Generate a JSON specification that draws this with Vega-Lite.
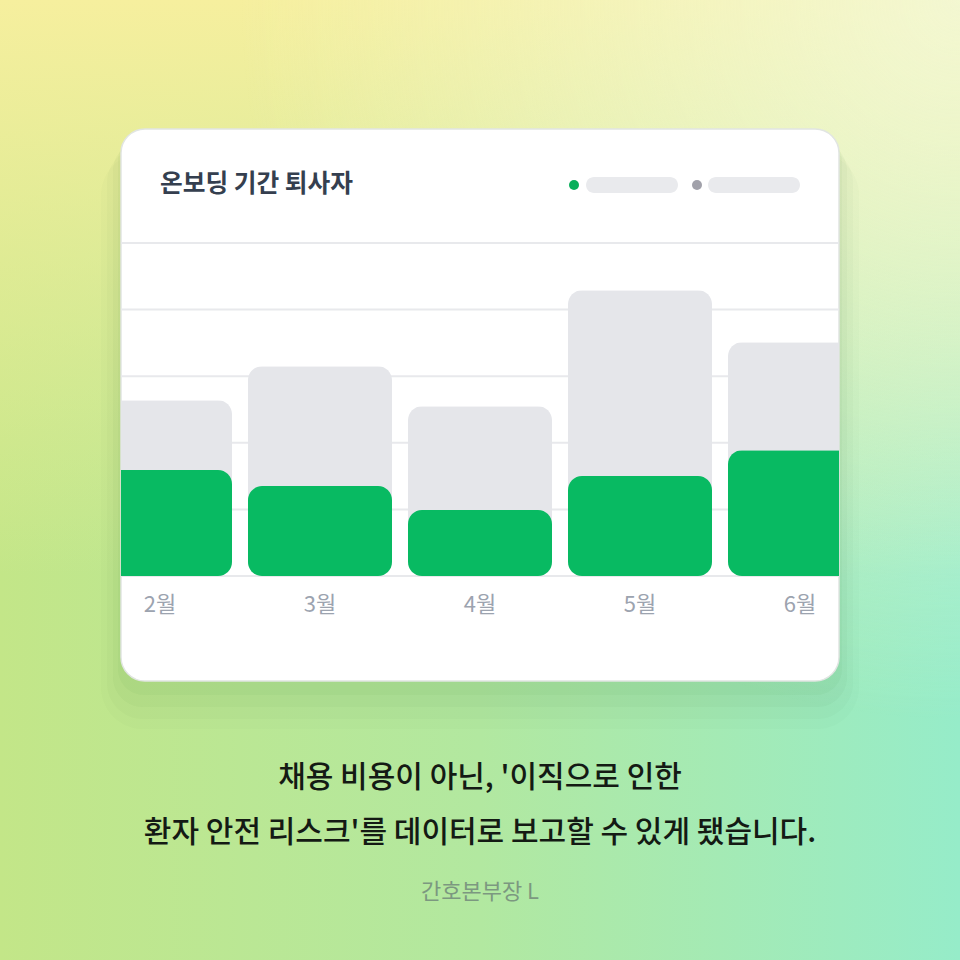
{
  "$schema": "https://vega.github.io/schema/vega-lite/v6.json",
  "description": "Card chart of leavers during onboarding, by month, on a gradient background.",
  "autosize": {"type": "pad"},
  "padding": 0,
  "background": "#c8e99a",
  "config": {"view": {"stroke": null}, "font": "Noto Sans CJK KR"},
  "datasets": {
    "months": [
      {"month": "2월", "total": 2.64, "leavers": 1.59},
      {"month": "3월", "total": 3.15, "leavers": 1.35},
      {"month": "4월", "total": 2.55, "leavers": 0.99},
      {"month": "5월", "total": 4.29, "leavers": 1.5},
      {"month": "6월", "total": 3.51, "leavers": 1.89}
    ],
    "grid": [{"v": 0}, {"v": 1}, {"v": 2}, {"v": 3}, {"v": 4}, {"v": 5}],
    "one": [{}]
  },
  "vconcat": [
    {
      "width": 718,
      "height": 552,
      "layer": [
        {
          "data": {"name": "one"},
          "mark": {
            "type": "rect",
            "fill": {
              "gradient": "linear", "x1": 0, "y1": 0, "x2": 1, "y2": 0,
              "stops": [
                {"offset": 0, "color": "#c3e688"},
                {"offset": 0.5, "color": "#b2e8a0"},
                {"offset": 1, "color": "#96ecc9"}
              ]
            }
          },
          "encoding": {"x": {"value": -121}, "x2": {"value": 839}, "y": {"value": -129}, "y2": {"value": 831}}
        },
        {
          "data": {"name": "one"},
          "mark": {
            "type": "rect",
            "fill": {
              "gradient": "linear", "x1": 0, "y1": 0, "x2": 0, "y2": 1,
              "stops": [
                {"offset": 0, "color": "rgba(246,239,158,1)"},
                {"offset": 0.6, "color": "rgba(246,239,158,0)"}
              ]
            }
          },
          "encoding": {"x": {"value": -121}, "x2": {"value": 839}, "y": {"value": -129}, "y2": {"value": 831}}
        },
        {
          "data": {"name": "one"},
          "mark": {
            "type": "rect",
            "fill": {
              "gradient": "radial", "x1": 1, "y1": 0, "r1": 0, "x2": 1, "y2": 0, "r2": 0.75,
              "stops": [
                {"offset": 0, "color": "rgba(243,249,218,0.85)"},
                {"offset": 1, "color": "rgba(243,249,218,0)"}
              ]
            }
          },
          "encoding": {"x": {"value": -121}, "x2": {"value": 839}, "y": {"value": -129}, "y2": {"value": 831}}
        },
        {
          "data": {"name": "one"},
          "mark": {"type": "rect", "color": "#2a6a22", "opacity": 0.02, "cornerRadius": 42},
          "encoding": {"x": {"value": -20}, "x2": {"value": 738}, "y": {"value": 24}, "y2": {"value": 600}}
        },
        {
          "data": {"name": "one"},
          "mark": {"type": "rect", "color": "#2a6a22", "opacity": 0.025, "cornerRadius": 36},
          "encoding": {"x": {"value": -14}, "x2": {"value": 732}, "y": {"value": 18}, "y2": {"value": 590}}
        },
        {
          "data": {"name": "one"},
          "mark": {"type": "rect", "color": "#2a6a22", "opacity": 0.03, "cornerRadius": 30},
          "encoding": {"x": {"value": -8}, "x2": {"value": 726}, "y": {"value": 12}, "y2": {"value": 578}}
        },
        {
          "data": {"name": "one"},
          "mark": {"type": "rect", "color": "#2a6a22", "opacity": 0.035, "cornerRadius": 26},
          "encoding": {"x": {"value": -3}, "x2": {"value": 721}, "y": {"value": 6}, "y2": {"value": 566}}
        },
        {
          "data": {"name": "one"},
          "mark": {"type": "rect", "fill": "#ffffff", "stroke": "#e1e5e2", "strokeWidth": 1.5, "cornerRadius": 24},
          "encoding": {"x": {"value": 0}, "x2": {"value": 718}, "y": {"value": 0}, "y2": {"value": 552}}
        },
        {
          "data": {"name": "grid"},
          "mark": {"type": "rule", "color": "#e8e9ec", "strokeWidth": 2},
          "encoding": {
            "y": {"field": "v", "type": "quantitative", "axis": null,
                  "scale": {"domain": [0, 5], "range": [447, 114], "nice": false}}
          }
        },
        {
          "data": {"name": "months"},
          "transform": [{"filter": {"field": "month", "oneOf": ["3월", "4월", "5월"]}}],
          "mark": {"type": "bar", "color": "#e5e6ea", "cornerRadius": 14},
          "encoding": {
            "x": {
              "field": "month", "type": "ordinal", "sort": null,
              "scale": {"domain": ["2월", "3월", "4월", "5월", "6월"], "range": [-121, 839], "paddingInner": 0.1, "paddingOuter": 0.55},
              "axis": {
                "orient": "bottom", "offset": -105, "title": null, "domain": false,
                "ticks": false, "tickSize": 0, "grid": false, "labelAngle": 0,
                "labelPadding": 18, "labelFontSize": 22, "labelColor": "#9ca3af",
                "labelFont": "Noto Sans CJK KR", "zindex": 1
              }
            },
            "y": {"field": "total", "type": "quantitative", "axis": null,
                  "scale": {"domain": [0, 5], "range": [447, 114], "nice": false}}
          }
        },
        {
          "data": {"name": "months"},
          "transform": [{"filter": {"field": "month", "equal": "2월"}}],
          "mark": {"type": "bar", "color": "#e5e6ea", "width": 111, "xOffset": 16.5, "cornerRadiusTopRight": 14, "cornerRadiusBottomRight": 14},
          "encoding": {
            "x": {"field": "month", "type": "ordinal", "sort": null},
            "y": {"field": "total", "type": "quantitative", "axis": null}
          }
        },
        {
          "data": {"name": "months"},
          "transform": [{"filter": {"field": "month", "equal": "6월"}}],
          "mark": {"type": "bar", "color": "#e5e6ea", "width": 111, "xOffset": -16.5, "cornerRadiusTopLeft": 14, "cornerRadiusBottomLeft": 14},
          "encoding": {
            "x": {"field": "month", "type": "ordinal", "sort": null},
            "y": {"field": "total", "type": "quantitative", "axis": null}
          }
        },
        {
          "data": {"name": "months"},
          "transform": [{"filter": {"field": "month", "oneOf": ["3월", "4월", "5월"]}}],
          "mark": {"type": "bar", "color": "#08ba62", "cornerRadius": 14},
          "encoding": {
            "x": {"field": "month", "type": "ordinal", "sort": null},
            "y": {"field": "leavers", "type": "quantitative", "axis": null}
          }
        },
        {
          "data": {"name": "months"},
          "transform": [{"filter": {"field": "month", "equal": "2월"}}],
          "mark": {"type": "bar", "color": "#08ba62", "width": 111, "xOffset": 16.5, "cornerRadiusTopRight": 14, "cornerRadiusBottomRight": 14},
          "encoding": {
            "x": {"field": "month", "type": "ordinal", "sort": null},
            "y": {"field": "leavers", "type": "quantitative", "axis": null}
          }
        },
        {
          "data": {"name": "months"},
          "transform": [{"filter": {"field": "month", "equal": "6월"}}],
          "mark": {"type": "bar", "color": "#08ba62", "width": 111, "xOffset": -16.5, "cornerRadiusTopLeft": 14, "cornerRadiusBottomLeft": 14},
          "encoding": {
            "x": {"field": "month", "type": "ordinal", "sort": null},
            "y": {"field": "leavers", "type": "quantitative", "axis": null}
          }
        },
        {
          "data": {"values": [{"label": "온보딩 기간 퇴사자"}]},
          "mark": {"type": "text", "align": "left", "baseline": "middle", "fontSize": 24.7, "fontWeight": "bold", "color": "#353f4f"},
          "encoding": {"x": {"value": 39}, "y": {"value": 56}, "text": {"field": "label"}}
        },
        {
          "data": {"name": "one"},
          "mark": {"type": "rect", "color": "#e9eaed", "cornerRadius": 8},
          "encoding": {"x": {"value": 465}, "x2": {"value": 557}, "y": {"value": 48}, "y2": {"value": 64}}
        },
        {
          "data": {"name": "one"},
          "mark": {"type": "rect", "color": "#e9eaed", "cornerRadius": 8},
          "encoding": {"x": {"value": 587}, "x2": {"value": 679}, "y": {"value": 48}, "y2": {"value": 64}}
        },
        {
          "data": {"name": "one"},
          "mark": {"type": "circle", "color": "#08ae5a", "opacity": 1, "size": 100},
          "encoding": {"x": {"value": 453}, "y": {"value": 56}}
        },
        {
          "data": {"name": "one"},
          "mark": {"type": "circle", "color": "#a1a1aa", "opacity": 1, "size": 100},
          "encoding": {"x": {"value": 576}, "y": {"value": 56}}
        },
        {
          "data": {"values": [{"line": "채용 비용이 아닌, '이직으로 인한"}]},
          "mark": {"type": "text", "align": "center", "baseline": "middle", "fontSize": 30, "fontWeight": 500, "color": "#141a14"},
          "encoding": {"x": {"value": 359}, "y": {"value": 649}, "text": {"field": "line"}}
        },
        {
          "data": {"values": [{"line": "환자 안전 리스크'를 데이터로 보고할 수 있게 됐습니다."}]},
          "mark": {"type": "text", "align": "center", "baseline": "middle", "fontSize": 30, "fontWeight": 500, "color": "#141a14"},
          "encoding": {"x": {"value": 359}, "y": {"value": 704}, "text": {"field": "line"}}
        },
        {
          "data": {"values": [{"line": "간호본부장 L"}]},
          "mark": {"type": "text", "align": "center", "baseline": "middle", "fontSize": 22, "color": "#7c9880"},
          "encoding": {"x": {"value": 359}, "y": {"value": 763}, "text": {"field": "line"}}
        }
      ]
    }
  ]
}
